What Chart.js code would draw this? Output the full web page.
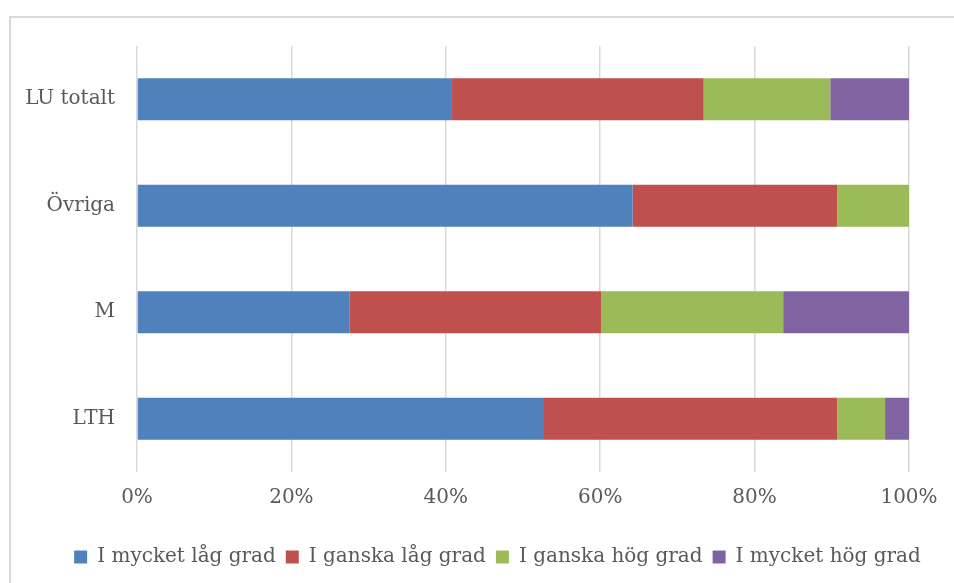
<!DOCTYPE html>
<html>
<head>
<meta charset="utf-8">
<script src="https://cdn.jsdelivr.net/npm/chart.js@4.4.0/dist/chart.umd.min.js"></script>
<style>
  html, body { margin: 0; padding: 0; background: #fff; overflow: hidden; }
  #wrap { position: relative; width: 954px; height: 583px; overflow: hidden; }
  #frame { position: absolute; left: 9px; top: 16px; width: 960px; height: 600px;
           border-left: 2px solid #d9d9d9; border-top: 2px solid #d9d9d9; box-sizing: border-box; }
  #myChart { position: absolute; left: 0; top: 0; }
</style>
</head>
<body>
<div id="wrap">
  <div id="frame"></div>
  <canvas id="myChart" width="954" height="583"></canvas>
</div>
<script>
const categorias = ['LU totalt', 'Övriga', 'M', 'LTH']
const muyBaja = [40.8, 64.2, 27.5, 52.6]
const bastanteBaja = [32.6, 26.5, 32.6, 38.1]
const bastanteAlta = [16.4, 9.3, 23.6, 6.2]
const muyAlta = [10.2, 0, 16.3, 3.1]
const ticksX = [0, 20, 40, 60, 80, 100]

const fuente = { family: "'DejaVu Serif', serif", size: 20 }
const gris = '#595959'

const ctx = document.getElementById('myChart')

Chart.defaults.font.family = fuente.family
Chart.defaults.color = gris

const serie = (label, data, color) => ({
  label: label,
  data: data,
  backgroundColor: color,
  borderWidth: 0,
  barPercentage: 0.4,
  categoryPercentage: 0.99
})

// la leyenda va centrada en todo el ancho, no solo en el área del gráfico
const moverLeyenda = {
  id: 'moverLeyenda',
  afterLayout: (chart) => {
    chart.legend.left += 43
    chart.legend.right += 43
  }
}

new Chart(ctx, {
  type: 'bar',
  data: {
    labels: categorias,
    datasets: [
      serie('I mycket låg grad', muyBaja, '#4F81BD'),
      serie('I ganska låg grad', bastanteBaja, '#C0504D'),
      serie('I ganska hög grad', bastanteAlta, '#9BBB59'),
      serie('I mycket hög grad', muyAlta, '#8064A2')
    ]
  },
  options: {
    indexAxis: 'y',
    responsive: false,
    animation: false,
    layout: { padding: { top: 46, right: 45, left: 0, bottom: 6 } },
    scales: {
      x: {
        stacked: true,
        min: 0,
        max: 100,
        afterBuildTicks: (s) => { s.ticks = ticksX.map(v => ({ value: v })) },
        afterFit: (s) => { s.height = 65 },
        ticks: {
          font: fuente,
          color: gris,
          padding: 14,
          maxRotation: 0,
          callback: (v) => v + '%'
        },
        grid: { color: '#d9d9d9', lineWidth: 1.5, drawTicks: false },
        border: { display: false }
      },
      y: {
        stacked: true,
        afterFit: (s) => { s.width = 137 },
        ticks: { font: fuente, color: gris, padding: 22 },
        grid: { display: false, drawTicks: false },
        border: { display: false }
      }
    },
    plugins: {
      legend: {
        position: 'bottom',
        labels: {
          font: fuente,
          color: gris,
          boxWidth: 13,
          boxHeight: 13,
          padding: 10
        }
      },
      tooltip: { enabled: false }
    }
  },
  plugins: [moverLeyenda]
})
</script>
</body>
</html>
